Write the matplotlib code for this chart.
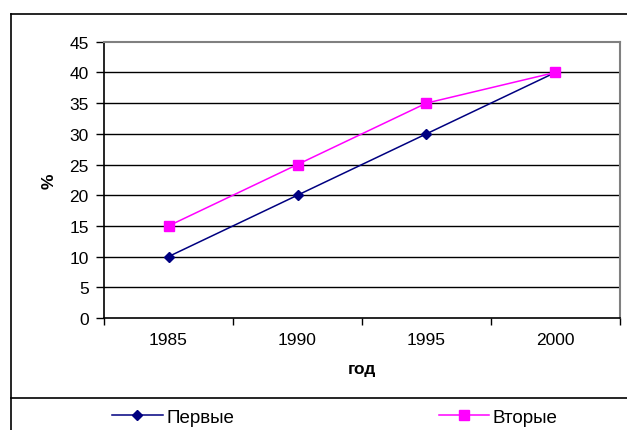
import matplotlib
matplotlib.use('Agg')
import matplotlib.pyplot as plt
from matplotlib.lines import Line2D

# data
years = ['1985', '1990', '1995', '2000']
pervye = [10, 20, 30, 40]
vtorye = [15, 25, 35, 40]
labels = ['Первые', 'Вторые']

plt.rcParams['font.family'] = ['Liberation Sans', 'DejaVu Sans']
fs = 12.5

W, H = 627, 431
fig = plt.figure(figsize=(W / 100, H / 100), dpi=100)
ax = fig.add_axes([104 / W, 1 - 319 / H, (620 - 104) / W, (319 - 42.7) / H])

x = range(len(years))
l1, = ax.plot(x, pervye, color='#000080', lw=1.1, marker='D', ms=5,
              mfc='#000080', mec='#000080', zorder=3)
l2, = ax.plot(x, vtorye, color='#FF00FF', lw=1.1, marker='s', ms=6.5,
              mfc='#FF00FF', mec='#FF00FF', zorder=4)

ax.set_xlim(-0.5, len(years) - 0.5)
ax.set_ylim(0, 45)
ax.set_yticks(range(0, 50, 5))
ax.set_xticks([i - 0.5 for i in range(len(years) + 1)], minor=False)
ax.set_xticklabels([])
ax.set_xticks(list(x), minor=True)
ax.set_xticklabels(years, minor=True, fontsize=fs)
ax.tick_params(axis='x', which='minor', length=0, pad=10)
ax.tick_params(axis='x', which='major', length=5, width=1, direction='out', color='black')
ax.tick_params(axis='y', length=6, width=1, direction='out', labelsize=fs, pad=5)

for v in range(5, 45, 5):
    ax.axhline(v, color='black', lw=1.0, zorder=1)

for s in ['top', 'right']:
    ax.spines[s].set_color('#808080')
    ax.spines[s].set_linewidth(1.5)
for s in ['left', 'bottom']:
    ax.spines[s].set_color('black')
    ax.spines[s].set_linewidth(1.2)

ax.set_ylabel('%', fontsize=fs, fontweight='bold', labelpad=9)
ax.set_xlabel('год', fontsize=fs, fontweight='bold', labelpad=10)

# outer frame
fx = 11 / W
fig.add_artist(Line2D([fx, fx], [0, 1 - 15 / H], transform=fig.transFigure, color='black', lw=1.2))
fig.add_artist(Line2D([fx, 1], [1 - 15 / H, 1 - 15 / H], transform=fig.transFigure, color='black', lw=1.2))
fig.add_artist(Line2D([fx, 1], [1 - 399 / H, 1 - 399 / H], transform=fig.transFigure, color='black', lw=1.2))

fig.legend([l1, l2], labels, loc='center left', bbox_to_anchor=(112 / W, 1 - 418 / H),
           ncol=2, frameon=False, fontsize=13.5, handlelength=2.7, handletextpad=0.2,
           columnspacing=10.9, borderpad=0, borderaxespad=0, markerscale=1.0)

fig.savefig('out.png', dpi=100)
